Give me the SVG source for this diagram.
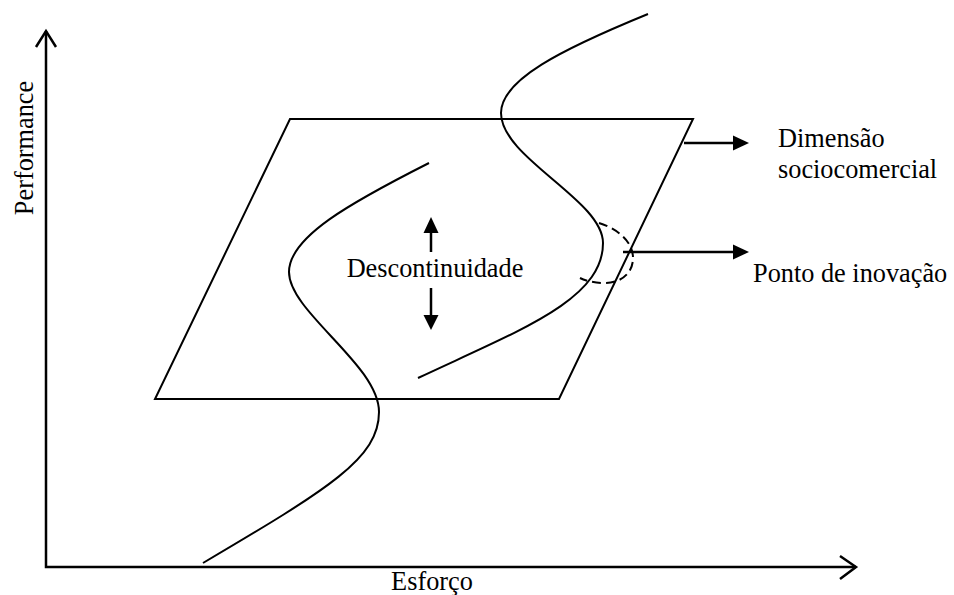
<svg xmlns="http://www.w3.org/2000/svg" width="954" height="595" viewBox="0 0 954 595">
<style>
.ln{fill:none;stroke:#000;stroke-width:2}
.ax{fill:none;stroke:#000;stroke-width:2.5}
.ar{fill:none;stroke:#000;stroke-width:2.5}
.hd{fill:#000;stroke:none}
.t{font-family:"Liberation Serif","Times New Roman",serif;font-size:26.3px;fill:#000}
.dash{fill:none;stroke:#000;stroke-width:2;stroke-dasharray:9 5}
</style>
<rect width="954" height="595" fill="#fff"/>
<g id="axes">
<path class="ax" d="M46,31 V567 H856"/>
<path class="ax" d="M36,47 L46,31 L56,47"/>
<path class="ax" d="M840,556 L856,567 L840,579"/>
<text class="t" transform="translate(33,148) rotate(-90)" text-anchor="middle">Performance</text>
<text class="t" x="432" y="590" text-anchor="middle">Esforço</text>
</g>
<g id="plane">
<polygon class="ln" points="290,119 693,119 559,399 155,399"/>
</g>
<g id="curve-left">
<path class="ln" d="M429,163 C350,203 289,237 289,272 C289,312 379,365 379,412 C379,458 330,488 203,563"/>
</g>
<g id="curve-right">
<path class="ln" d="M648,14 C560,50 501,80 501,113 C501,158 603,200 603,243 C603,300 520,330 418,378"/>
</g>
<g id="innovation-point">
<path class="dash" d="M599,223 C615,228 633,240 633,258 C633,274 620,283 605,283 C595,283 586,281 580,278"/>
</g>
<g id="connectors">
<line class="ar" x1="684" y1="143" x2="734" y2="143"/>
<polygon class="hd" points="733,135.5 749,143 733,150.5"/>
<line class="ar" x1="623" y1="252" x2="734" y2="252"/>
<polygon class="hd" points="733,244.5 749,252 733,259.5"/>
<line class="ar" x1="431" y1="232" x2="431" y2="252"/>
<polygon class="hd" points="423.5,233 431,217 438.5,233"/>
<line class="ar" x1="431" y1="288" x2="431" y2="316"/>
<polygon class="hd" points="423.5,315 431,330 438.5,315"/>
</g>
<g id="labels">
<text class="t" x="435" y="277" text-anchor="middle">Descontinuidade</text>
<text class="t" x="778" y="147">Dimensão</text>
<text class="t" x="778" y="178">sociocomercial</text>
<text class="t" x="753" y="282">Ponto de inovação</text>
</g>
</svg>
